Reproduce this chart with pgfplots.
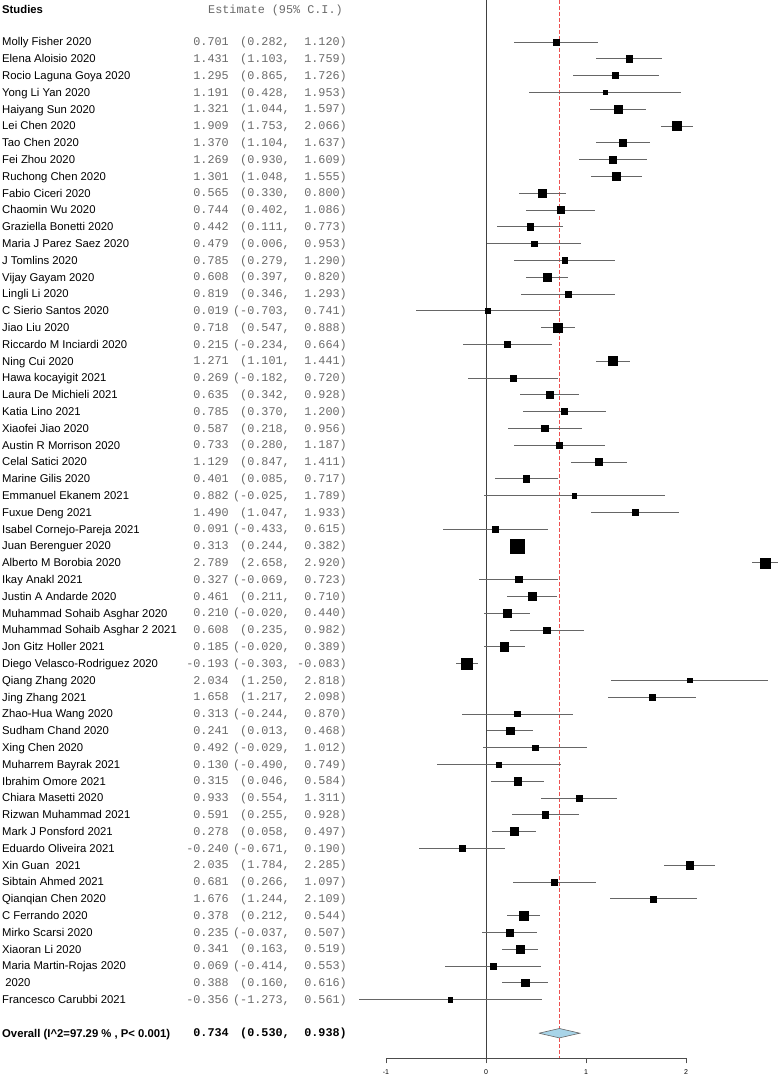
\documentclass[border=0pt]{standalone}
\usepackage{pgfplots}
\pgfplotsset{compat=1.18}
\usepackage{pgfplotstable}
\usepackage{fontspec}
\setmainfont{Liberation Sans}
\newfontfamily\monof{Liberation Mono}

\definecolor{ovred}{RGB}{236,80,80}
\definecolor{diafill}{RGB}{168,212,232}
\definecolor{numgrey}{RGB}{105,105,105}

\newcommand{\namefont}{\fontsize{11.3}{13}\selectfont}
\newcommand{\numfont}{\monof\fontsize{11.8}{13}\selectfont}

% row, study, estimate, lower, upper, box side (px)
\pgfplotstableread[col sep=comma]{
row,name,est,lo,hi,s
1,Molly Fisher 2020,0.701,0.282,1.120,6.0
2,Elena Aloisio 2020,1.431,1.103,1.759,6.7
3,Rocio Laguna Goya 2020,1.295,0.865,1.726,5.9
4,Yong Li Yan 2020,1.191,0.428,1.953,4.6
5,Haiyang Sun 2020,1.321,1.044,1.597,7.2
6,Lei Chen 2020,1.909,1.753,2.066,9.3
7,Tao Chen 2020,1.370,1.104,1.637,7.3
8,Fei Zhou 2020,1.269,0.930,1.609,6.6
9,Ruchong Chen 2020,1.301,1.048,1.555,7.5
10,Fabio Ciceri 2020,0.565,0.330,0.800,7.7
11,Chaomin Wu 2020,0.744,0.402,1.086,6.6
12,Graziella Bonetti 2020,0.442,0.111,0.773,6.6
13,Maria J Parez Saez 2020,0.479,0.006,0.953,5.7
14,J Tomlins 2020,0.785,0.279,1.290,5.5
15,Vijay Gayam 2020,0.608,0.397,0.820,8.1
16,Lingli Li 2020,0.819,0.346,1.293,5.7
17,C Sierio Santos 2020,0.019,-0.703,0.741,4.8
18,Jiao Liu 2020,0.718,0.547,0.888,8.9
19,Riccardo M Inciardi 2020,0.215,-0.234,0.664,5.8
20,Ning Cui 2020,1.271,1.101,1.441,9.0
21,Hawa kocayigit 2021,0.269,-0.182,0.720,5.8
22,Laura De Michieli 2021,0.635,0.342,0.928,7.0
23,Katia Lino 2021,0.785,0.370,1.200,6.0
24,Xiaofei Jiao 2020,0.587,0.218,0.956,6.3
25,Austin R Morrison 2020,0.733,0.280,1.187,5.8
26,Celal Satici 2020,1.129,0.847,1.411,7.1
27,Marine Gilis 2020,0.401,0.085,0.717,6.8
28,Emmanuel Ekanem 2021,0.882,-0.025,1.789,4.3
29,Fuxue Deng 2021,1.490,1.047,1.933,5.9
30,Isabel Cornejo-Pareja 2021,0.091,-0.433,0.615,5.4
31,Juan Berenguer 2020,0.313,0.244,0.382,13.6
32,Alberto M Borobia 2020,2.789,2.658,2.920,10.1
33,Ikay Anakl 2021,0.327,-0.069,0.723,6.1
34,Justin A Andarde 2020,0.461,0.211,0.710,7.5
35,Muhammad Sohaib Asghar 2020,0.210,-0.020,0.440,7.8
36,Muhammad Sohaib Asghar 2 2021,0.608,0.235,0.982,6.3
37,Jon Gitz Holler 2021,0.185,-0.020,0.389,8.2
38,Diego Velasco-Rodriguez 2020,-0.193,-0.303,-0.083,10.9
39,Qiang Zhang 2020,2.034,1.250,2.818,4.6
40,Jing Zhang 2021,1.658,1.217,2.098,5.9
41,Zhao-Hua Wang 2020,0.313,-0.244,0.870,5.3
42,Sudham Chand 2020,0.241,0.013,0.468,7.8
43,Xing Chen 2020,0.492,-0.029,1.012,5.5
44,Muharrem Bayrak 2021,0.130,-0.490,0.749,5.1
45,Ibrahim Omore 2021,0.315,0.046,0.584,7.3
46,Chiara Masetti 2020,0.933,0.554,1.311,6.3
47,Rizwan Muhammad 2021,0.591,0.255,0.928,6.6
48,Mark J Ponsford 2021,0.278,0.058,0.497,8.0
49,Eduardo Oliveira 2021,-0.240,-0.671,0.190,5.9
50,Xin Guan ~2021,2.035,1.784,2.285,7.5
51,Sibtain Ahmed 2021,0.681,0.266,1.097,6.0
52,Qianqian Chen 2020,1.676,1.244,2.109,5.9
53,C Ferrando 2020,0.378,0.212,0.544,9.0
54,Mirko Scarsi 2020,0.235,-0.037,0.507,7.2
55,Xiaoran Li 2020,0.341,0.163,0.519,8.8
56,Maria Martin-Rojas 2020,0.069,-0.414,0.553,5.6
57,~2020,0.388,0.160,0.616,7.8
58,Francesco Carubbi 2021,-0.356,-1.273,0.561,4.3
}\studies

\begin{document}
\begin{tikzpicture}
\begin{axis}[
  at={(0,0)}, anchor=south west,
  scale only axis, width=300pt, height=1058.4pt,
  xmin=-1, xmax=2, ymin=-61.5, ymax=1.5,
  axis x line=bottom, axis y line=none,
  x axis line style={-, black!70, line width=0.8pt},
  xtick={-1,0,1,2}, ytick=\empty,
  tick align=outside, major tick length=5pt,
  tick style={black!70, line width=0.8pt},
  xticklabel style={font=\fontsize{7}{8}\selectfont, inner sep=0pt, yshift=-6pt},
  /pgf/number format/assume math mode=true,
  clip=false,
]
% zero line and overall estimate
\addplot[color=black!75, line width=0.8pt] coordinates {(0,1.5) (0,-61.5)};
\addplot[color=ovred, line width=1.1pt, dash pattern=on 4pt off 2pt] coordinates {(0.734,1.5) (0.734,-61.5)};

% confidence intervals
\addplot[only marks, mark=none,
  error bars/.cd, x dir=both, x explicit, error mark=none,
  error bar style={draw=black!60, line width=0.8pt}]
  table[x=est, y expr=-\thisrow{row},
        x error plus expr=\thisrow{hi}-\thisrow{est},
        x error minus expr=\thisrow{est}-\thisrow{lo}] {\studies};

% weighted boxes
\addplot[scatter, only marks, mark=square*,
  scatter/use mapped color={draw=black, fill=black},
  visualization depends on={0.5*\thisrow{s} \as \ms},
  scatter/@pre marker code/.append style={/tikz/mark size=\ms}]
  table[x=est, y expr=-\thisrow{row}] {\studies};

% overall diamond
\addplot[fill=diafill, draw=black!60, line width=0.6pt]
  coordinates {(0.530,-60) (0.734,-59.72) (0.938,-60) (0.734,-60.28) (0.530,-60)};

% text columns
\addplot[only marks, mark=none, point meta=explicit symbolic,
  nodes near coords, nodes near coords align={anchor=base west},
  every node near coord/.append style={font=\namefont, inner sep=0pt, yshift=-4pt}]
  table[x expr=-4.84, y expr=-\thisrow{row}, meta=name] {\studies};
\addplot[only marks, mark=none, point meta=explicit symbolic,
  nodes near coords, nodes near coords align={anchor=base east},
  every node near coord/.append style={font=\numfont, text=numgrey, inner sep=0pt, yshift=-3.8pt}]
  table[x expr=-2.57, y expr=-\thisrow{row}, meta=est] {\studies};
\addplot[only marks, mark=none, point meta=explicit symbolic,
  nodes near coords={(\pgfplotspointmeta,}, nodes near coords align={anchor=base east},
  every node near coord/.append style={font=\numfont, text=numgrey, inner sep=0pt, yshift=-3.8pt}]
  table[x expr=-1.96, y expr=-\thisrow{row}, meta=lo] {\studies};
\addplot[only marks, mark=none, point meta=explicit symbolic,
  nodes near coords={\pgfplotspointmeta)}, nodes near coords align={anchor=base east},
  every node near coord/.append style={font=\numfont, text=numgrey, inner sep=0pt, yshift=-3.8pt}]
  table[x expr=-1.39, y expr=-\thisrow{row}, meta=hi] {\studies};

% header and overall row
\node[anchor=base west, inner sep=0pt, yshift=-4pt, font=\namefont\bfseries] at (axis cs:-4.84,0.905) {Studies};
\node[anchor=base west, inner sep=0pt, yshift=-3.8pt, font=\numfont, text=numgrey] at (axis cs:-2.78,0.905) {Estimate (95\% C.I.)};
\node[anchor=base west, inner sep=0pt, yshift=-4pt, font=\namefont\bfseries] at (axis cs:-4.84,-60) {Overall (I\textasciicircum 2=97.29 \% , P< 0.001)};
\node[anchor=base east, inner sep=0pt, yshift=-3.8pt, font=\numfont\bfseries] at (axis cs:-2.57,-60) {0.734};
\node[anchor=base east, inner sep=0pt, yshift=-3.8pt, font=\numfont\bfseries] at (axis cs:-1.96,-60) {(0.530,};
\node[anchor=base east, inner sep=0pt, yshift=-3.8pt, font=\numfont\bfseries] at (axis cs:-1.39,-60) {0.938)};
\end{axis}
\pgfresetboundingbox
\useasboundingbox (-386pt,-19.6pt) rectangle (394pt,1058.4pt);
\end{tikzpicture}
\end{document}
